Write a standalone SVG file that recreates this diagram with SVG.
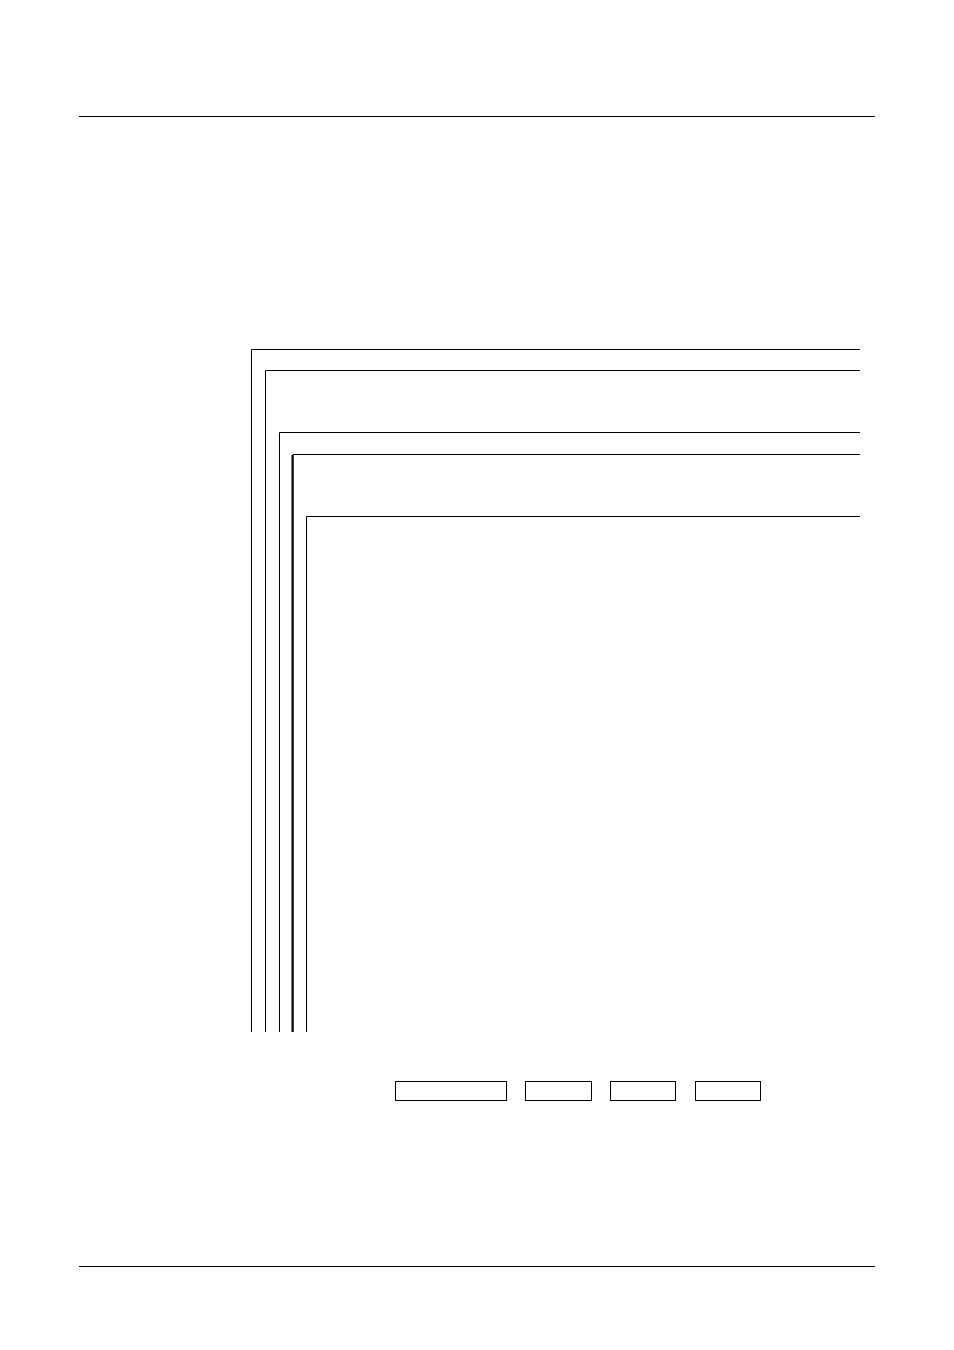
<svg xmlns="http://www.w3.org/2000/svg" width="954" height="1350" viewBox="0 0 954 1350">
<style>
.ln{fill:none;stroke:#000;stroke-width:1}
.thick{stroke-width:2}
.box{fill:#fff;stroke:#000;stroke-width:1}
</style>
<rect x="0" y="0" width="954" height="1350" fill="#fff"/>
<g id="rules">
<line class="ln" x1="79" y1="116.5" x2="875" y2="116.5"/>
<line class="ln" x1="79" y1="1266.5" x2="875" y2="1266.5"/>
</g>
<g id="connectors">
<polyline id="frame1" class="ln" points="251.5,1032 251.5,349.5 860,349.5"/>
<polyline id="frame2" class="ln" points="265.5,1032 265.5,370.5 860,370.5"/>
<polyline id="frame3" class="ln" points="279.5,1032 279.5,432.5 860,432.5"/>
<polyline id="frame4" class="ln" points="293,1032 293,454.5 860,454.5"/>
<line class="ln thick" x1="292.5" y1="455" x2="292.5" y2="1032"/>
<polyline id="frame5" class="ln" points="306.5,1032 306.5,516.5 860,516.5"/>
</g>
<g id="box1"><rect class="box" x="395.5" y="1081.5" width="111" height="19"/></g>
<g id="box2"><rect class="box" x="525.5" y="1081.5" width="66" height="19"/></g>
<g id="box3"><rect class="box" x="610.5" y="1081.5" width="65" height="19"/></g>
<g id="box4"><rect class="box" x="695.5" y="1081.5" width="65" height="19"/></g>
</svg>
